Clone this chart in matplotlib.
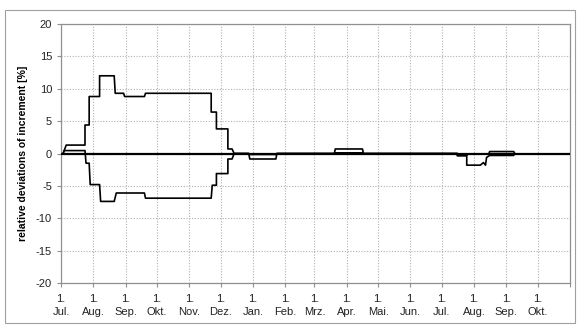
import numpy as np
import matplotlib
matplotlib.use("Agg")
import matplotlib.pyplot as plt
from matplotlib.patches import Rectangle

plt.rcParams['font.family'] = ['Liberation Sans', 'DejaVu Sans']
plt.rcParams['axes.unicode_minus'] = False

# month starts, days counted from 1. Jul. of the first year
month_days = [0, 31, 62, 92, 123, 153, 184, 215, 243, 274, 304, 335, 365, 396, 427, 457, 488]
month_names = ['Jul.', 'Aug.', 'Sep.', 'Okt.', 'Nov.', 'Dez.', 'Jan.', 'Feb.', 'Mrz.',
               'Apr.', 'Mai.', 'Jun.', 'Jul.', 'Aug.', 'Sep.', 'Okt.', '']

# upper deviation curve (vertices)
upper_days = [2, 5, 23, 23, 27, 27, 37, 37, 51, 52, 60, 61, 80, 81, 144, 144, 149, 149,
              160, 160, 164, 166, 180, 181, 206, 207, 262, 263, 289, 290, 380, 380, 389,
              390, 410, 411, 434, 435]
upper_vals = [0, 1.3, 1.3, 4.4, 4.4, 8.8, 8.8, 12.0, 12.0, 9.3, 9.3, 8.8, 8.8, 9.3, 9.3,
              6.4, 6.4, 3.8, 3.8, 0.7, 0.7, 0, 0, -0.15, -0.15, 0, 0, 0.7, 0.7, 0, 0, -0.3,
              -0.3, -0.1, -0.1, 0.3, 0.3, 0]

# lower deviation curve (vertices)
lower_days = [2, 3, 23, 24, 27, 28, 37, 38, 51, 53, 80, 81, 144, 145, 149, 149, 160, 160,
              164, 166, 180, 181, 206, 207, 262, 263, 289, 290, 380, 380, 389, 389, 402,
              405, 407, 408, 411, 434, 435]
lower_vals = [0, 0.45, 0.45, -1.5, -1.5, -4.8, -4.8, -7.4, -7.4, -6.1, -6.1, -6.9, -6.9,
              -4.9, -4.9, -3.1, -3.1, -0.85, -0.85, 0, 0, -0.85, -0.85, 0, 0, 0.1, 0.1, 0,
              0, -0.35, -0.35, -1.8, -1.8, -1.4, -1.8, -0.6, -0.3, -0.3, 0]

fig = plt.figure(figsize=(5.8, 3.29), dpi=100)
fig.patches.append(Rectangle((5/580, 1-323/329), 570/580, 313/329, transform=fig.transFigure,
                             fill=False, ec='#a0a0a0', lw=0.8))
ax = fig.add_axes([61/580, 1-283/329, 509/580, 259/329])

ax.axhline(0, color='black', lw=1.6, zorder=3)
ax.plot(upper_days, upper_vals, color='black', lw=1.2, zorder=4)
ax.plot(lower_days, lower_vals, color='black', lw=1.2, zorder=4)

ax.set_xlim(0, 488)
ax.set_ylim(-20, 20)
ax.set_yticks(np.arange(-20, 21, 5))
ax.set_xticks(month_days)
ax.set_xticklabels(['1.\n' + m if m else '' for m in month_names], linespacing=1.35)
ax.grid(True, color='#b0b0b0', linestyle=(0, (1, 1.5)), lw=0.8)
for s in ax.spines.values():
    s.set_color('#909090')
    s.set_linewidth(0.9)
ax.tick_params(axis='both', colors='#909090', labelcolor='#222222', labelsize=8,
               length=3, width=0.8)
ax.tick_params(axis='x', pad=5)
ax.set_ylabel('relative deviations of increment [%]', fontsize=7.5, fontweight='bold',
              labelpad=6)

plt.savefig('out.png', dpi=100)
